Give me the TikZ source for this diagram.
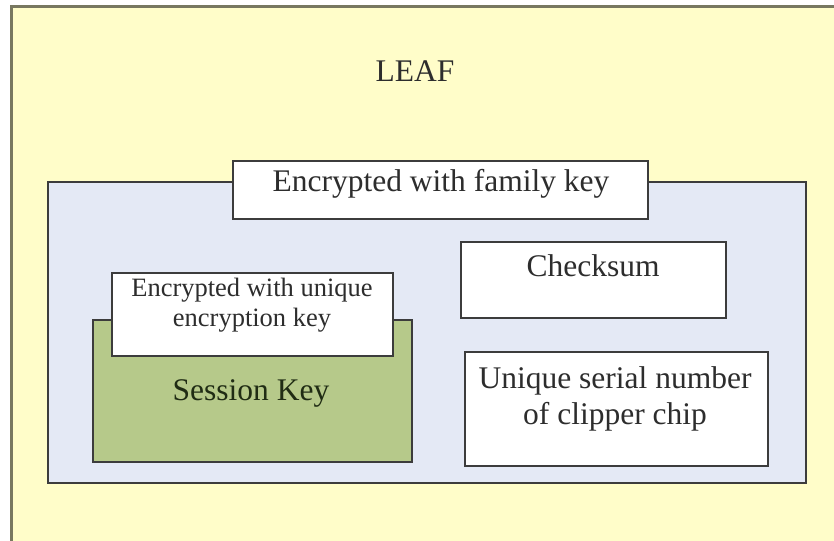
\documentclass[tikz,border=0pt]{standalone}
\usepackage{fontspec}
\setmainfont{Liberation Serif}
\begin{document}
\begin{tikzpicture}[x=1pt,y=-1pt,
  box/.style={draw=boxline,line width=2pt,inner sep=0pt},
  txt/.style={anchor=base,inner sep=0pt,text=txtcol,font=\fontsize{31.5}{36}\selectfont},
  smalltxt/.style={anchor=base,inner sep=0pt,text=txtcol,font=\fontsize{26.5}{30}\selectfont}]
\definecolor{leaffill}{RGB}{255,253,201}
\definecolor{leafline}{RGB}{120,120,96}
\definecolor{bluefill}{RGB}{228,233,245}
\definecolor{greenfill}{RGB}{182,201,138}
\definecolor{boxline}{RGB}{60,60,60}
\definecolor{txtcol}{RGB}{45,45,45}
\definecolor{sesscol}{RGB}{32,44,20}
\useasboundingbox (0,0) rectangle (834,540);
\fill[white] (0,0) rectangle (834,540);
\begin{scope}
\clip (0,0) rectangle (834,540);
\draw[fill=leaffill,draw=leafline,line width=3pt] (11,7) rectangle (850,560);
\end{scope}
\node[txt] (leaf) at (415,82) {LEAF};
% blue region
\draw[box,fill=bluefill] (48,182) rectangle (806,483);
\coordinate (blue) at (427,332);
% family key box
\draw[box,fill=white] (233,161) rectangle (648,219);
\node[txt] (family) at (441,191) {Encrypted with family key};
% checksum
\draw[box,fill=white] (461,242) rectangle (726,318);
\node[txt] (checksum) at (593,276) {Checksum};
% serial number
\draw[box,fill=white] (465,352) rectangle (768,466);
\node[txt] (serial1) at (615,388) {Unique serial number};
\node[txt] (serial2) at (615,424) {of clipper chip};
% session key
\draw[box,fill=greenfill] (93,320) rectangle (412,462);
\node[txt,text=sesscol] (session) at (251,400) {Session Key};
% unique encryption key box
\draw[box,fill=white] (112,273) rectangle (393,356);
\node[smalltxt] (uniq1) at (252,296) {Encrypted with unique};
\node[smalltxt] (uniq2) at (252,326) {encryption key};
\end{tikzpicture}
\end{document}
